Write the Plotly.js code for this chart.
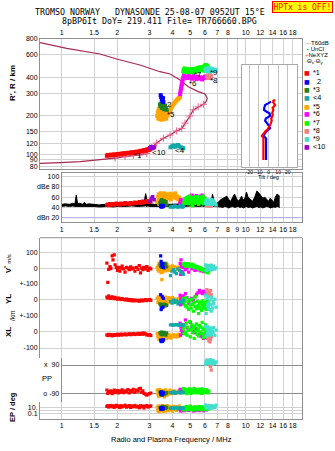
<!DOCTYPE html>
<html><head><meta charset="utf-8">
<script src="https://cdn.plot.ly/plotly-3.0.1.min.js"></script>
<style>html,body{margin:0;padding:0;background:#fff}#chart{width:335px;height:451px}</style>
</head><body><div id="chart"></div>
<script>
// ---------- frequency ticks ----------
const freqTicks = [1,1.5,2,3,4,5,6,7,8,9,10,12,14,16,18];
const freqLabelsOuter = ['1','1.5','2','3','4','5','6','7','8','','10','12','14','16','18'];
const freqLabelsMid = ['1','1.5','2','3','4','5','6','7','8','9','10','12','14','16','18'];
const heightTicks = [80,90,100,120,150,200,300,400,600,800];
const tiltTicks = [-20,-10,0,10,20];

// ---------- true-height profile ----------
const profUpperF = [0.762,1.065,1.615,1.99,2.66,3.42,3.88,4.40,4.87,5.52,6.01,6.18,6.09,5.89];
const profUpperH = [748,676,610,557,500,443,425,381,338,309,296,274,258,246];
const neF = [5.89,5.52,5.19,4.98,4.68,4.49,4.21,3.88,3.57,3.28,3.08,2.90,2.66,2.45,2.21,1.95];
const neH = [246,235,222,199,175,159,152,141,133,122,112,101,98.5,97.6,95.5,92.8];
const profLowerF = [1.95,1.55,1.26,0.98,0.762];
const profLowerH = [92.8,90,87.3,85.7,84.7];

// ---------- T60dB noise ----------
const t60F = [1.0,1.05,1.1,1.15,1.18,1.2,1.22,1.25,1.3,1.33,1.36,1.4,1.5,1.6,1.7,1.8,1.9,2.0,2.2,2.4,2.6,2.75,2.82,2.86,2.9,2.94,3.0,3.1,3.2,3.4,3.6,3.8,4.0,4.3,4.6,5.0,5.3,5.6,5.8,5.9,6.0,6.1,6.3,6.5,6.6,6.7,6.9,7.1,7.3,7.5,7.7,7.9,8.1,8.3,8.5,8.7,8.9,9.1,9.3,9.5,9.7,9.9,10.1,10.3,10.6,10.9,11.2,11.5,11.8,12.1,12.4,12.7,13.0,13.3,13.6,13.9,14.2,14.5,14.8,15.1,15.3];
const t60Top = [46,47,46,48,47,64,47,48,46,50, 46,47,46,45,46,45,46,45,46,47, 47,49,55,67,56,50,47,46,46,46, 45,46,46,46,47,48,50,54,64,52, 50,49,52,50,66,55,47,50,55,57, 60,62,55,52,60,66,58,52,56,62, 54,58,70,60,56,52,60,72,68,64, 58,60,55,52,58,54,50,60,66,64, 62];
const t60Bot = [42,43,42,43,42,42,42,43,42,43, 42,42,42,41,42,42,41,42,42,43, 42,43,42,43,42,43,42,42,41,42, 42,41,42,42,42,43,42,42,43,42, 43,42,42,43,42,42,42,41,41,40, 42,41,39,41,42,40,41,42,40,41, 39,41,42,40,41,39,41,42,40,41, 39,40,42,41,39,40,41,40,42,41, 40];

// ---------- echoes: red *1 ----------
const redF = [1.76,1.78,1.80,1.83,1.85,1.88,1.90,1.93,1.95,1.98,2.01,2.04,2.07,2.10,2.13,2.17,2.21,2.25,2.29,2.33,2.37,2.41,2.45,2.50,2.55,2.60,2.64,2.68,2.72,2.76,2.80,2.85,2.90,2.95,3.00,3.05];
const redH = [97,98.5,97.5,98,99,97.8,98.6,99.5,98.2,99,100,99.2,100.5,99.6,100.8,101.5,100.5,101.8,102.4,101.2,102.6,103.4,102,103.8,104.5,103.2,105,106,104.6,106.5,107.5,106,108.5,109.5,108,111];
const redDb = [45,46,44,47,45,46,47,45,46,48,46,47,45,48,47,46,49,47,48,46,49,48,47,50,48,49,51,48,50,52,49,51,53,50,52,51];
const redV = [31,-90,-8,10,-2,77,52,83,21,3,-15,5,-20,0,12,-5,-25,5,0,-10,8,-5,0,-20,4,-8,15,-30,0,-10,5,-5,10,-15,0,-5];
const redYL = [18,12,25,15,10,20,14,8,16,10,5,12,8,3,9,4,0,6,-2,3,-4,2,-6,0,-5,-2,-8,-3,0,-6,-2,2,-4,0,3,-2];
const redXL = [-18,-22,-15,-20,-17,-24,-19,-16,-21,-18,-14,-20,-17,-13,-19,-16,-12,-18,-15,-11,-17,-14,-10,-16,-13,-9,-15,-12,-8,-14,-6,-12,-18,-20,-16,-22];
const redPP = [-69,-90,-79,-84,-75,-92,-80,-70,-86,-78,-72,-88,-76,-82,-68,-85,-74,-80,-66,-88,-72,-78,-64,-84,-70,-76,-60,-58,-82,-74,-90,-95,-101,-96,-92,-88];
const redEP = [20,35,12,25,40,15,30,10,22,45,18,28,8,33,14,24,50,11,19,38,9,27,16,42,13,21,7,32,17,26,6,23,36,12,20,30];

// ---------- blue 2 ----------
const blueF = [3.45,3.47,3.50,3.52,3.55,3.57];
const blueH = [290,280,270,262,275,256];
const blueDb = [42,43,41,44,42,43];
const blueV = [77,42,20,10,30,5];
const blueYL = [33,-60,-50,20,-45,10];
const blueXL = [-50,-60,-55,-58,-52,-48];
const bluePP = [-85,-95,-80,-100,-90,-88];
const blueEP = [5,2,8,3,6,4];

// ---------- dark green *3 ----------
const dgreenF = [3.42,3.45,3.48,3.50,3.53,3.56,3.60,3.64,3.68,3.72];
const dgreenH = [245,238,250,230,242,235,225,240,228,222];
const dgreenDb = [48,52,46,55,50,47,53,49,51,45];
const dgreenV = [20,10,28,5,15,25,0,12,30,8];
const dgreenYL = [-25,-30,-35,-28,-40,-32,-26,-38,-30,-34];
const dgreenXL = [-5,-12,0,-18,-8,-15,-2,-10,-20,-6];
const dgreenPP = [-80,-95,-85,-100,-90,-82,-98,-88,-92,-86];
const dgreenEP = [8,3,12,5,20,2,6,15,4,10];

// ---------- teal <4 ----------
const tealF = [3.90,3.98,4.05,4.12,4.20,4.28,4.36,4.44,4.52,4.58];
const tealH = [113,115,117,114,116,118,115,113,112,111];
const tealDb = [41,42,41,43,42,41,42,43,41,42];
const tealV = [-48,-20,-10,-25,-35,-5,-15,-31,-28,-40];
const tealYL = [-10,-20,0,-15,-5,-25,-12,-8,-18,-3];
const tealXL = [44,45,43,44,46,44,43,45,44,42];
const tealPP = [-85,-88,-80,-90,-84,-86,-82,-88,-86,-84];
const tealEP = [5,8,4,6,10,3,7,5,9,4];

// ---------- orange *5 ----------
const orangeF = [3.30,3.33,3.35,3.37,3.40,3.42,3.44,3.46,3.48,3.50,3.52,3.54,3.56,3.58,3.60,3.62,3.64,3.66,3.68,3.70,3.72,3.74,3.76,3.80,3.84,3.88,3.92,3.96,4.00,4.05,4.10,4.15,4.20,4.25,4.30,4.35,4.40,3.38,3.47,3.57];
const orangeH = [200,215,190,225,205,188,218,196,210,186,222,200,192,214,206,188,220,198,208,190,212,200,204,210,216,220,228,234,240,246,252,258,262,268,272,276,282,228,194,202];
const orangeDb = [50,62,55,66,48,60,68,52,64,58,45,66,54,62,68,50,60,64,56,66,52,60,65,58,63,67,55,61,66,59,64,68,57,62,55,60,52,46,58,64];
const orangeV = [5,-10,15,-20,0,25,-5,10,-15,-73,20,-25,0,8,-12,18,-8,3,-18,12,-3,22,-10,6,-14,2,10,-6,14,-2,8,-10,4,0,-4,6,-8,30,-28,2];
const orangeYL = [10,-15,20,-5,5,-20,15,-42,0,-10,25,-25,8,-8,12,-18,3,-12,18,-3,6,-22,10,-6,14,-14,4,-9,16,-2,7,-16,2,-11,9,-4,11,-7,0,-20];
const orangeXL = [-10,-30,-20,-45,-15,-35,-25,-40,-12,-28,-38,-18,-32,-22,-48,-16,-26,-36,-14,-30,-42,-20,-24,-34,-18,-28,-38,-22,-30,-16,-26,-20,-32,-24,-14,-28,-18,-8,-36,-44];
const orangePP = [-70,-95,-80,-110,-66,-88,-100,-75,-92,-84,-105,-72,-96,-86,-78,-112,-90,-68,-98,-82,-76,-102,-88,-94,-80,-70,-86,-92,-78,-84,-74,-90,-82,-88,-76,-80,-72,-108,-96,-100];
const orangeEP = [10,1,30,0.5,5,2,20,0.8,8,3,40,1.5,12,0.4,6,25,2.5,0.6,15,4,1,35,7,0.7,18,3,1.2,9,0.5,22,2,14,0.9,5,1.8,28,4,0.3,11,6];

// ---------- magenta *6 ----------
const magF = [4.40,4.42,4.45,4.47,4.50,4.52,4.55,4.58,4.62,4.70,4.80,4.90,5.00,5.10,5.20,5.30,5.40,5.50,5.60,5.70,5.80,5.90,6.00,6.10];
const magH = [295,310,325,340,355,370,385,400,415,405,395,415,400,390,410,398,388,405,392,400,385,395,405,398];
const magDb = [48,52,55,50,46,53,49,51,47,56,58,60,62,64,59,61,63,60,58,62,64,60,52,50];
const magV = [30,-40,52,10,-20,25,-30,5,15,-10,0,-25,20,-5,10,-15,-8,-12,-5,-18,-10,-22,-15,-8];
const magYL = [30,-30,10,-15,20,-25,5,25,-10,40,15,-20,0,10,-5,20,35,45,60,50,40,55,38,42];
const magXL = [55,-20,30,10,40,-10,20,0,45,75,25,15,60,35,5,-5,20,10,-15,-25,-30,-40,-20,-35];
const magPP = [-64,-85,-70,-80,-75,-68,-82,-72,-78,-66,-84,-74,-70,-80,-76,-68,-72,-78,-74,-82,-70,-76,-80,-72];
const magEP = [4.6,0.6,2,1,3,0.8,1.5,4,0.7,2.5,1.2,0.9,3.5,1.8,0.6,2.2,1,4,0.8,1.6,3,0.7,2,1.3];

// ---------- green *7 ----------
const greenF = [4.58,4.62,4.66,4.70,4.75,4.80,4.85,4.90,4.95,5.00,5.05,5.10,5.15,5.20,5.25,5.30,5.35,5.40,5.45,5.50,5.55,5.60,5.65,5.70,5.75,5.80,5.85,5.90,5.95,6.00,6.05,6.10,6.15,6.20,6.25,6.30,4.72,5.12,5.52,5.92];
const greenH = [445,460,470,455,465,450,462,448,458,440,452,465,445,458,442,455,468,450,460,475,455,468,480,462,472,458,470,485,478,490,500,482,495,488,475,465,440,438,445,452];
const greenDb = [45,50,55,48,58,52,60,47,54,62,50,56,44,59,53,48,61,55,50,57,46,60,52,58,49,55,62,47,53,58,50,55,48,52,46,50,56,44,60,54];
const greenV = [25,20,30,15,22,18,28,12,20,15,10,22,8,18,5,14,2,10,0,8,-5,4,-8,0,-10,-4,-14,-8,-18,-12,-22,-16,-25,-20,-30,-18,12,25,-2,-15];
const greenYL = [10,-20,-5,-35,15,-45,-10,-60,0,-30,-50,5,-25,-70,-15,-40,20,-55,-8,-35,-85,-20,-45,-12,-65,-30,-5,-50,-25,-40,-15,-60,-30,-10,-45,-20,-38,-28,-52,-18];
const greenXL = [20,-10,40,0,55,-20,30,10,65,-30,15,45,-5,25,-40,35,5,50,-15,20,-25,40,0,30,-10,60,15,-35,25,-5,45,10,-20,30,0,20,-12,38,8,-28];
const greenPP = [-60,-75,-88,-65,-80,-92,-70,-85,-62,-78,-90,-68,-82,-74,-58,-86,-72,-80,-66,-88,-76,-64,-84,-70,-90,-62,-78,-86,-68,-74,-82,-66,-80,-72,-88,-76,-70,-84,-64,-78];
const greenEP = [1.3,3,8,2,20,1.5,5,12,2.5,27,1.8,4,10,1.4,6,15,2.2,3.5,9,1.6,7,18,2.8,4.5,11,1.3,5.5,14,2,3,8,1.5,6,22,2.4,4,9,1.7,12,3.2];

// ---------- salmon *8 ----------
const salmonF = [6.15,6.20,6.25,6.30,6.35,6.40,6.45,6.50];
const salmonH = [410,400,415,396,405,418,398,408];
const salmonDb = [44,45,43,46,44,45,43,44];
const salmonV = [10,5,12,8,15,6,10,4];
const salmonYL = [65,40,55,22,50,30,60,35];
const salmonXL = [-25,-40,-30,-55,-35,-62,-45,-28];
const salmonPP = [122,110,118,100,95,85,79,58];
const salmonEP = [20,10,30,8,15,25,12,18];

// ---------- turquoise *9 ----------
const turqF = [6.05,6.10,6.15,6.20,6.25,6.30,6.35,6.40,6.45,6.50,6.55,6.60,6.65,6.70,6.80,6.90];
const turqH = [455,468,448,460,472,450,465,444,458,470,452,462,448,456,460,452];
const turqDb = [48,52,55,46,50,54,47,53,49,51,55,46,50,52,48,45];
const turqV = [20,-15,10,-5,15,-10,5,0,-12,18,-8,8,-3,12,-6,2];
const turqYL = [30,-85,10,-40,-20,20,-60,0,-30,-70,15,-50,-10,-25,5,-45];
const turqXL = [35,-25,20,-10,10,30,-20,0,25,-15,15,5,-5,28,-22,12];
const turqPP = [95,110,100,120,105,98,115,108,125,102,112,96,118,106,100,110];
const turqEP = [58,10,25,5,40,15,8,30,4.6,20,12,35,6,18,9,50];

// ---------- purple <10 ----------
const purpleF = [3.02,3.07,3.12,3.18];
const purpleH = [112,114,111,113];
const purpleDb = [52,58,61,55];

// ---------- tilt inset ----------
const thetaxH = [90,135,139,143,147,152,156,162,169,176,183,190,197,203,210,216,222,230,236,243,250,256,262,265];
const thetaxT = [-5.4,-5.4,-7,-6,-4.7,-3,-1.2,0.5,1.6,2.5,3.3,2.8,3.6,4.4,3.8,4.6,5,4.2,5.5,6.8,5.6,4.8,5,7];
const thetayH = [90,133,136,139,144,150,155,160,165,169,176,183,187,191,195,199,204,209,215,222,230,237,243,250,258];
const thetayT = [-2.6,-2.6,-4,-5.4,-4,-2.6,-0.5,1.6,0.8,-0.2,-2,-3.6,-3.2,-2.6,-0.5,1.6,1.4,0.9,-2,-4.7,-4.5,-4,-3.6,-0.5,2.6];

// ===================== build =====================
const SANS = 'Liberation Sans, Arial, sans-serif';
const MONO = 'DejaVu Sans Mono, monospace';
const GRID = '#d2d2d2', FRAME = '#909090';
const PX = p => (p - 40) / 262;
const PY = p => (419 - p) / 380;

const echoes = [
  {lab:'*5', c:'#ffa500', f:orangeF, h:orangeH, db:orangeDb, v:orangeV, yl:orangeYL, xl:orangeXL, pp:orangePP, ep:orangeEP},
  {lab:'*3', c:'#208020', f:dgreenF, h:dgreenH, db:dgreenDb, v:dgreenV, yl:dgreenYL, xl:dgreenXL, pp:dgreenPP, ep:dgreenEP},
  {lab:'*6', c:'#ff00ff', f:magF, h:magH, db:magDb, v:magV, yl:magYL, xl:magXL, pp:magPP, ep:magEP},
  {lab:'*7', c:'#00ff00', f:greenF, h:greenH, db:greenDb, v:greenV, yl:greenYL, xl:greenXL, pp:greenPP, ep:greenEP},
  {lab:'*8', c:'#f08080', f:salmonF, h:salmonH, db:salmonDb, v:salmonV, yl:salmonYL, xl:salmonXL, pp:salmonPP, ep:salmonEP},
  {lab:'*9', c:'#40e0d0', f:turqF, h:turqH, db:turqDb, v:turqV, yl:turqYL, xl:turqXL, pp:turqPP, ep:turqEP},
  {lab:'*1', c:'#ff0000', f:redF, h:redH, db:redDb, v:redV, yl:redYL, xl:redXL, pp:redPP, ep:redEP},
  {lab:'2', c:'#0000ff', f:blueF, h:blueH, db:blueDb, v:blueV, yl:blueYL, xl:blueXL, pp:bluePP, ep:blueEP},
  {lab:'<4', c:'#10a8a8', f:tealF, h:tealH, db:tealDb, v:tealV, yl:tealYL, xl:tealXL, pp:tealPP, ep:tealEP},
  {lab:'<10', c:'#9400d3', f:purpleF, h:purpleH, db:purpleDb}
];

const data = [];
function mk(x, y, xa, ya, color, size) {
  return {type:'scatter', mode:'markers', x:x, y:y, xaxis:xa, yaxis:ya,
    marker:{symbol:'square', size:size, color:color, line:{width:0}}, hoverinfo:'skip', showlegend:false};
}
// profile
data.push({type:'scatter', mode:'lines', x:profUpperF, y:profUpperH, xaxis:'x', yaxis:'y',
  line:{color:'#a82850', width:1.2}, hoverinfo:'skip', showlegend:false});
data.push({type:'scatter', mode:'lines+markers', x:neF, y:neH, xaxis:'x', yaxis:'y',
  line:{color:'#a82850', width:1.2}, marker:{symbol:'cross-thin-open', size:5, color:'#e8608a', line:{width:1, color:'#e8608a'}},
  hoverinfo:'skip', showlegend:false});
data.push({type:'scatter', mode:'lines', x:profLowerF, y:profLowerH, xaxis:'x', yaxis:'y',
  line:{color:'#a82850', width:1.2}, hoverinfo:'skip', showlegend:false});
// T60
data.push({type:'scatter', mode:'lines', x:t60F, y:t60Bot, xaxis:'x2', yaxis:'y2',
  line:{color:'#000', width:1}, hoverinfo:'skip', showlegend:false});
data.push({type:'scatter', mode:'lines', x:t60F, y:t60Top, xaxis:'x2', yaxis:'y2', fill:'tonexty', fillcolor:'#000',
  line:{color:'#000', width:1}, hoverinfo:'skip', showlegend:false});
// echoes
echoes.forEach(e => {
  data.push(mk(e.f, e.h, 'x', 'y', e.c, 4));
  data.push(mk(e.f, e.db, 'x2', 'y2', e.c, 3.5));
  if (e.v) {
    data.push(mk(e.f, e.v, 'x3', 'y3', e.c, 3.2));
    data.push(mk(e.f, e.yl, 'x3', 'y4', e.c, 3.2));
    data.push(mk(e.f, e.xl, 'x3', 'y5', e.c, 3.2));
    data.push(mk(e.f, e.pp, 'x5', 'y6', e.c, 3.2));
    data.push(mk(e.f, e.ep, 'x3', 'y7', e.c, 3.2));
  }
});
// tilt
data.push({type:'scatter', mode:'lines', x:thetayT, y:thetayH, xaxis:'x4', yaxis:'y8',
  line:{color:'#0000ff', width:2.2}, hoverinfo:'skip', showlegend:false});
data.push({type:'scatter', mode:'lines', x:thetaxT, y:thetaxH, xaxis:'x4', yaxis:'y8',
  line:{color:'#ff0000', width:2.2}, hoverinfo:'skip', showlegend:false});

const tf = {family:SANS, size:7, color:'#000'};
function fx(extra) {
  return Object.assign({type:'log', range:[-0.118,1.306], tickvals:freqTicks, ticktext:freqLabelsOuter, tickangle:0,
    showgrid:true, gridcolor:GRID, gridwidth:1, zeroline:false, ticks:'', tickfont:tf,
    showline:false, linecolor:FRAME, fixedrange:true}, extra);
}
function fy(extra) {
  return Object.assign({showgrid:true, gridcolor:GRID, zeroline:false, ticks:'', tickfont:tf, tickangle:0,
    showline:true, mirror:true, linecolor:FRAME, fixedrange:true}, extra);
}

const ann = [];
function A(text, px, py, o) {
  ann.push(Object.assign({text:text, x:PX(px), y:PY(py), xref:'paper', yref:'paper', showarrow:false,
    font:{family:SANS, size:7.5, color:'#000'}, xanchor:'center', yanchor:'middle'}, o || {}));
}
// title line 2 & warning box
A('8pBP6It DoY= 219.411 File= TR766660.BPG', 60, 20.7, {xanchor:'left', font:{family:MONO, size:8.3, color:'#000'}});
A('HPTx is OFF!', 302.5, 7.3, {font:{family:MONO, size:8, color:'#ff0000'}, bgcolor:'#ffff00', bordercolor:'#ff0000', borderwidth:1, borderpad:0.5});
// legend
const lf = {family:SANS, size:6, color:'#000'};
A("<span style='color:#909090'>—</span>T60dB", 302.5, 43, {xanchor:'left', font:lf});
A("<b>·</b> UnCl", 304.5, 49, {xanchor:'left', font:lf});
A("<span style='color:#e8608a'>+</span>NeXYZ", 303, 55, {xanchor:'left', font:lf});
A("<span style='color:#e06080'>-</span>Θ<sub>x</sub><span style='color:#6a6aff'>-</span>Θ<sub>y</sub>", 302.5, 61.5, {xanchor:'left', font:lf});
const legRows = [['*1','#ff0000',72.7],['2','#0000ff',81],['*3','#208020',89.3],['<4','#10a8a8',97.7],['*5','#ffa500',106],
  ['*6','#ff00ff',114],['*7','#00ff00',122],['*8','#f08080',130],['*9','#40e0d0',138.3],['<10','#9400d3',146.3]];
legRows.forEach(r => {
  A('■', 307, r[2], {font:{family:'DejaVu Sans', size:6, color:r[1]}});
  A(r[0] === '2' ? '\u00a0\u00a02' : r[0], 311, r[2], {xanchor:'left', font:{family:SANS, size:7.3, color:'#000'}});
});
// trace labels
const labf = {family:SANS, size:8, color:'#000'};
A('*1', 138, 155.5, {font:labf});
A('<10', 159, 152, {font:labf});
A('2', 169, 104.5, {font:labf});
A('*5', 171, 115, {font:labf});
A('*6', 193, 83.5, {font:labf});
A('*7', 198, 74.5, {font:labf});
A('*9', 214, 72.8, {font:labf});
A('*8', 214, 80.3, {font:labf});
A('<4', 179.5, 150, {font:labf});
// axis labels
A("<b>R', R / km</b>", 12, 83, {textangle:-90, font:{family:SANS, size:8, color:'#000'}});
A("<b>V<sup>*</sup></b> <span style='font-size:6px'>m/s</span>", 8, 264, {textangle:-90});
A('<b>YL</b>', 8, 299, {textangle:-90, font:{family:SANS, size:8, color:'#000'}});
A('/km', 12, 316, {textangle:-90, font:{family:SANS, size:6.5, color:'#000'}});
A('<b>XL</b>', 8, 332, {textangle:-90, font:{family:SANS, size:8, color:'#000'}});
A('PP', 47, 378);
A('<b>EP / deg</b>', 12, 407, {textangle:-90, font:{family:SANS, size:7.5, color:'#000'}});
A('Radio and Plasma Frequency / MHz', 171, 439);
A('Tilt / deg', 268, 176.8, {font:{family:SANS, size:5.5, color:'#000'}});
A('dBn 20', 60.5, 217.7, {xanchor:'right', font:tf});

const layout = {
  width:335, height:451, margin:{l:40, r:33, t:39, b:32}, paper_bgcolor:'#fff', plot_bgcolor:'rgba(0,0,0,0)',
  showlegend:false, font:{family:SANS, size:7.5, color:'#000'},
  title:{text:'TROMSO NORWAY\u00a0\u00a0 DYNASONDE 25-08-07 0952UT 15°E', x:35/335, xanchor:'left', xref:'container',
    y:1 - 12.3/451, yref:'container', yanchor:'middle', font:{family:MONO, size:8.3, color:'#000'}},
  xaxis: fx({domain:[0,1], anchor:'y', side:'top', showline:true, mirror:true}),
  yaxis: fy({type:'log', range:[1.883,2.903], domain:[0.6579,1], anchor:'x', tickvals:heightTicks, ticktext:heightTicks.map(String)}),
  xaxis2: fx({domain:[0.0828,1], range:[0,1.306], anchor:'y2', ticktext:freqLabelsMid, showline:true, mirror:true}),
  yaxis2: fy({range:[11,107.2], domain:[0.5176,0.6474], anchor:'x2', tickvals:[40,60,80,100], ticktext:['40','60','dBe 80','100']}),
  xaxis3: fx({domain:[0,1], anchor:'y7', showline:true}),
  yaxis3: fy({range:[-100,191], domain:[0.3553,0.4771], anchor:'x3', tickvals:[100,0,-100], ticktext:['100','0','+-100']}),
  yaxis4: fy({range:[-100,100], domain:[0.2711,0.3553], anchor:'x3', tickvals:[0,-100], ticktext:['0','+-100']}),
  yaxis5: fy({range:[-162.5,100], domain:[0.1605,0.2711], anchor:'x3', tickvals:[0,-100], ticktext:['0','-100']}),
  xaxis5: fx({domain:[0.0828,1], range:[0,1.306], anchor:'y6', showticklabels:false}),
  yaxis6: fy({range:[-145.3,134.5], domain:[0.0447,0.1605], anchor:'x5', tickvals:[90,-90], ticktext:['x\u00a0\u00a090','o -90'], gridcolor:'#8c8c8c'}),
  yaxis7: fy({type:'log', range:[-2.9,2.767], domain:[0,0.0447], anchor:'x3', tickvals:[10,1,0.1], ticktext:['10.','','0.1']}),
  xaxis4: {range:[-28,30], domain:[0.770,0.982], anchor:'y8', tickvals:tiltTicks, ticktext:['-20','-10','0','10','20'], ticks:'', tickangle:0,
    tickfont:{family:SANS, size:5, color:'#000'}, showgrid:true, gridcolor:'#c4c4c4', zeroline:false,
    showline:true, mirror:true, linecolor:'#a8a8a8', fixedrange:true},
  yaxis8: {type:'log', range:[1.897,2.699], domain:[0.662,0.932], anchor:'x4', showticklabels:false, showgrid:false,
    zeroline:false, showline:true, mirror:true, linecolor:'#a8a8a8', ticks:'', fixedrange:true},
  shapes:[
    {type:'line', xref:'paper', yref:'paper', x0:0, x1:1, y0:PY(237.7), y1:PY(237.7), line:{color:FRAME, width:1}},
    {type:'line', xref:'paper', yref:'y2', x0:PX(61.7), x1:1, y0:20, y1:20, line:{color:'#a4a4e8', width:1}, layer:'above'},
    {type:'rect', xref:'x4', yref:'y8', x0:-28, x1:30, y0:78.9, y1:500, fillcolor:'#fff', line:{width:0}, layer:'below'}
  ],
  annotations:ann
};

Plotly.newPlot('chart', data, layout, {staticPlot:true, displayModeBar:false});
</script></body></html>
